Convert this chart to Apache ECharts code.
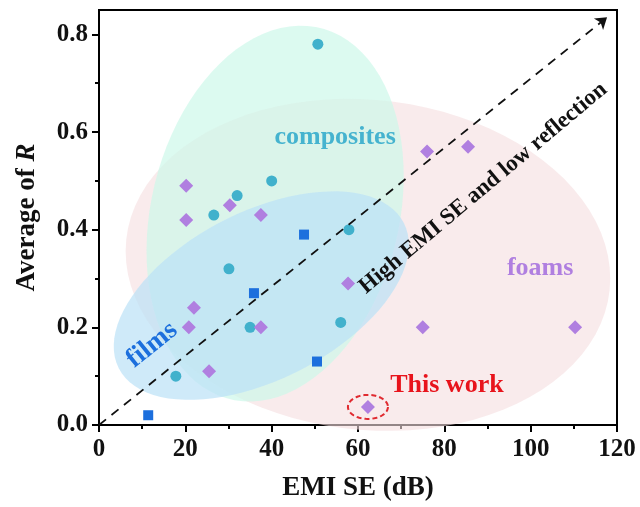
<!DOCTYPE html>
<html>
<head>
<meta charset="utf-8">
<script src="https://cdn.jsdelivr.net/npm/echarts@6/dist/echarts.min.js"></script>
<style>
  html, body { margin: 0; padding: 0; background: #fff; }
  #chart { width: 640px; height: 507px; }
</style>
</head>
<body>
<div id="chart"></div>
<script>
// films (squares)
const filmsSE = [11.4, 35.9, 47.5, 50.5];
const filmsR = [0.02, 0.27, 0.39, 0.13];
// composites (circles)
const compSE = [50.7, 40.0, 32.0, 26.6, 30.1, 35.0, 57.9, 56.0, 17.8];
const compR = [0.78, 0.50, 0.47, 0.43, 0.32, 0.20, 0.40, 0.21, 0.10];
// foams (diamonds)
const foamSE = [20.2, 20.2, 30.3, 37.5, 22.0, 20.8, 37.5, 25.5, 57.7, 75.0, 110.3, 76.0, 85.5];
const foamR = [0.49, 0.42, 0.45, 0.43, 0.24, 0.20, 0.20, 0.11, 0.29, 0.20, 0.20, 0.56, 0.57];
// this work
const thisSE = [62.3];
const thisR = [0.037];
// arrow (trend) ends
const arrowStart = [0, 0];
const arrowEnd = [117.7, 0.835];
// ticks
const yTicks = [0, 0.2, 0.4, 0.6, 0.8];
const yMinorTicks = [0.1, 0.3, 0.5, 0.7];

const serif = '"Liberation Serif", "Times New Roman", serif';

// shaded group regions (center in data units, radii in px, rotation in deg)
const blobs = [
  { at: [62.3, 0.328], rx: 243, ry: 165, rot: -6, fill: 'rgba(245,222,224,0.6)' },
  { at: [40.8, 0.433], rx: 124, ry: 191, rot: -13.6, fill: 'rgba(205,248,234,0.7)' },
  { at: [37.6, 0.265], rx: 160, ry: 84, rot: 27, fill: 'rgba(188,226,246,0.72)' },
  { at: [62.3, 0.037], rx: 20, ry: 12, rot: 0, fill: null, stroke: '#e02a30' }
];

const notes = [
  { text: 'composites', at: [54.7, 0.589], color: '#45b3cf', size: 26, rot: 0 },
  { text: 'films', at: [12.3, 0.164], color: '#1c6fdd', size: 27, rot: 39 },
  { text: 'foams', at: [102.2, 0.322], color: '#b07fe0', size: 26, rot: 0 },
  { text: 'This work', at: [80.6, 0.082], color: '#e8141c', size: 26, rot: 0 },
  { text: 'High EMI SE and low reflection', at: [89, 0.485], color: '#111', size: 23, rot: 40 }
];

function ellipsePoints(cx, cy, rx, ry, deg) {
  const a = deg * Math.PI / 180;
  const pts = [];
  for (let i = 0; i < 90; i++) {
    const t = i / 90 * Math.PI * 2;
    const x = rx * Math.cos(t), y = ry * Math.sin(t);
    pts.push([cx + x * Math.cos(a) + y * Math.sin(a), cy - x * Math.sin(a) + y * Math.cos(a)]);
  }
  return pts;
}

const chart = echarts.init(document.getElementById('chart'));

const option = {
  animation: false,
  grid: {
    left: 99, right: 23, top: 10, bottom: 82,
    show: true, borderColor: '#000', borderWidth: 2
  },
  xAxis: {
    type: 'value',
    min: 0, max: 120, interval: 20,
    name: 'EMI SE (dB)',
    nameLocation: 'middle',
    nameGap: 50,
    nameTextStyle: { fontFamily: serif, fontWeight: 'bold', fontSize: 27, color: '#111' },
    axisLine: { lineStyle: { color: '#000', width: 2 } },
    axisTick: { length: 7, lineStyle: { color: '#000', width: 2 } },
    minorTick: { show: true, splitNumber: 2, length: 4, lineStyle: { color: '#000', width: 2 } },
    splitLine: { show: false },
    axisLabel: { fontFamily: serif, fontWeight: 'bold', fontSize: 25, color: '#111', margin: 12 }
  },
  yAxis: [
    {
      type: 'value',
      min: 0, max: 0.85,
      name: 'Average of {i|R}',
      nameLocation: 'middle',
      nameGap: 58,
      nameTextStyle: {
        fontFamily: serif, fontWeight: 'bold', fontSize: 27, color: '#111',
        rich: { i: { fontFamily: serif, fontWeight: 'bold', fontStyle: 'italic', fontSize: 27, color: '#111' } }
      },
      axisLine: { lineStyle: { color: '#000', width: 2 } },
      axisTick: { customValues: yTicks, length: 7, lineStyle: { color: '#000', width: 2 } },
      splitLine: { show: false },
      axisLabel: {
        customValues: yTicks,
        formatter: v => v.toFixed(1),
        fontFamily: serif, fontWeight: 'bold', fontSize: 25, color: '#111', margin: 11
      }
    },
    {
      type: 'value',
      min: 0, max: 0.85,
      position: 'left',
      axisLine: { show: false },
      axisTick: { customValues: yMinorTicks, length: 4, lineStyle: { color: '#000', width: 2 } },
      axisLabel: { show: false },
      splitLine: { show: false }
    }
  ],
  series: [
    {
      type: 'custom',
      silent: true,
      z: 1,
      data: blobs.map(b => b.at),
      renderItem: (params, api) => {
        const b = blobs[params.dataIndex];
        const c = api.coord([api.value(0), api.value(1)]);
        return {
          type: 'polygon',
          shape: { points: ellipsePoints(c[0], c[1], b.rx, b.ry, b.rot) },
          style: b.fill
            ? { fill: b.fill, stroke: null }
            : { fill: null, stroke: b.stroke, lineWidth: 2, lineDash: [5, 3] }
        };
      }
    },
    {
      type: 'custom',
      silent: true,
      z: 4,
      data: notes.map(n => n.at),
      renderItem: (params, api) => {
        const n = notes[params.dataIndex];
        const c = api.coord([api.value(0), api.value(1)]);
        return {
          type: 'text',
          x: c[0], y: c[1],
          rotation: n.rot * Math.PI / 180,
          style: {
            text: n.text,
            fill: n.color,
            font: 'bold ' + n.size + 'px ' + serif,
            align: 'center', verticalAlign: 'middle',
            textAlign: 'center', textVerticalAlign: 'middle'
          }
        };
      }
    },
    {
      name: 'films',
      type: 'scatter',
      z: 3,
      symbol: 'rect',
      symbolSize: 10,
      itemStyle: { color: '#1c6fdd', opacity: 1 },
      data: filmsSE.map((x, i) => [x, filmsR[i]])
    },
    {
      name: 'composites',
      type: 'scatter',
      z: 3,
      symbol: 'circle',
      symbolSize: 11,
      itemStyle: { color: '#41b1cc', opacity: 1 },
      data: compSE.map((x, i) => [x, compR[i]])
    },
    {
      name: 'foams',
      type: 'scatter',
      z: 3,
      symbol: 'diamond',
      symbolSize: 14,
      itemStyle: { color: '#b07fe0', opacity: 1 },
      data: foamSE.map((x, i) => [x, foamR[i]])
    },
    {
      name: 'This work',
      type: 'scatter',
      z: 3,
      symbol: 'diamond',
      symbolSize: 14,
      itemStyle: { color: '#b07fe0', opacity: 1 },
      data: thisSE.map((x, i) => [x, thisR[i]]),
      markLine: {
        silent: true,
        symbol: ['none', 'arrow'],
        symbolSize: 11,
        label: { show: false },
        lineStyle: { color: '#111', width: 1.8, type: [9, 7] },
        data: [[{ coord: arrowStart }, { coord: arrowEnd }]]
      }
    }
  ]
};

chart.setOption(option);
</script>
</body>
</html>
